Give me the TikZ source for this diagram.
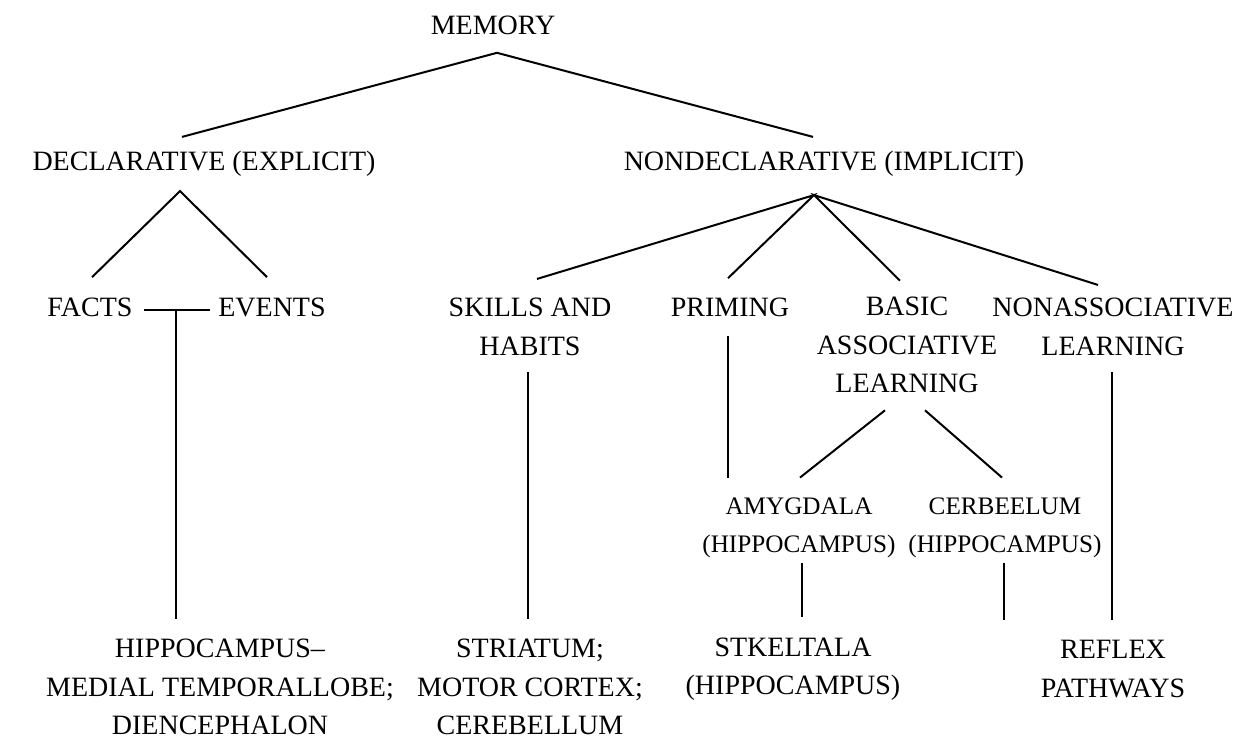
\documentclass[tikz,border=0pt]{standalone}
\usepackage{fontspec}
\setmainfont{Liberation Serif}
\usetikzlibrary{positioning,calc}

\begin{document}
\begin{tikzpicture} [x=0.5pt, y=-0.5pt,
		every node/.style={align=center, inner sep=0pt, font=\fontsize{14}{19.25}\selectfont},
		region/.style={font=\fontsize{12.6}{19}\selectfont},
		branch/.style={black, line width=1pt}]
					\useasboundingbox (0, 0) rectangle (1238, 738);

					\node (memory) at (493, 25) {MEMORY};
					\node (decl) at (204, 164) {DECLARATIVE (EXPLICIT)};
					\node (nondecl) at (824, 164) {NONDECLARATIVE (IMPLICIT)};

					\node (facts) at (90, 307) {FACTS};
					\node (events) at (272, 307) {EVENTS};
					\node (skills) at (530, 327) {SKILLS AND\\HABITS};
					\node (priming) at (730, 307) {PRIMING};
					\node (basic) at (907, 345) {BASIC\\ASSOCIATIVE\\LEARNING};
					\node (nonassoc) at (1113, 327) {NONASSOCIATIVE\\LEARNING};

					\node [region] (amygdala) at (799, 528) {AMYGDALA\\(HIPPOCAMPUS)};
					\node [region] (cerbeelum) at (1005, 528) {CERBEELUM\\(HIPPOCAMPUS)};

					\node (hippo) at (220, 687) {HIPPOCAMPUS--\\MEDIAL TEMPORALLOBE;\\DIENCEPHALON};
					\node (striatum) at (530, 687) {STRIATUM;\\MOTOR CORTEX;\\CEREBELLUM};
					\node (stkeltala) at (793, 669) {STKELTALA\\(HIPPOCAMPUS)};
					\node (reflex) at (1113, 669) {REFLEX\\PATHWAYS};

					\draw [branch] ($(decl.north)+(-22, -14)$)--($(memory.south)+(4, 18)$)--($(nondecl.north)+(-11, -14)$);

					\draw [branch] ($(facts.north)+(2, -20)$)--($(decl.south)+(-24, 14)$)--($(events.north)+(-5, -20)$);
					\draw [branch] ($(facts.east)+(11, 3)$)--($(events.west)+(-8, 3)$);
					\coordinate (fe) at ($(facts.east)!0.5!(events.west)+(1, 3)$);
					\draw [branch] (fe)--($(fe |- hippo.north)+(0, -20)$);

					\draw [branch] ($(skills.north)+(7, -19)$)--($(nondecl.south)+(-10, 18)$)--($(priming.north)+(-2, -19)$);
					\draw [branch] ($(basic.north)+(-7, -16)$)--($(nondecl.south)+(-10, 18)$)--($(nonassoc.north)+(-15, -13)$);

					\draw [branch] ($(skills.south)+(-2, 16)$)--($(striatum.north)+(-2, -20)$);
					\draw [branch] ($(priming.south)+(-2, 19)$)--($(priming.south |- amygdala.north)+(-2, -20)$);
					\draw [branch] ($(amygdala.north)+(1, -20)$)--($(basic.south)+(-22, 17)$);
					\draw [branch] ($(basic.south)+(18, 17)$)--($(cerbeelum.north)+(-3, -20)$);
					\draw [branch] ($(nonassoc.south)+(-1, 16)$)--($(reflex.north)+(-1, -20)$);

					\draw [branch] ($(amygdala.south)+(3, 5)$)--($(amygdala.south |- stkeltala.north)+(3, -20)$);
					\draw [branch] ($(cerbeelum.south)+(-1, 5)$)--($(cerbeelum.south |- reflex.north)+(-1, -20)$);
				\end{tikzpicture}
\end{document}
